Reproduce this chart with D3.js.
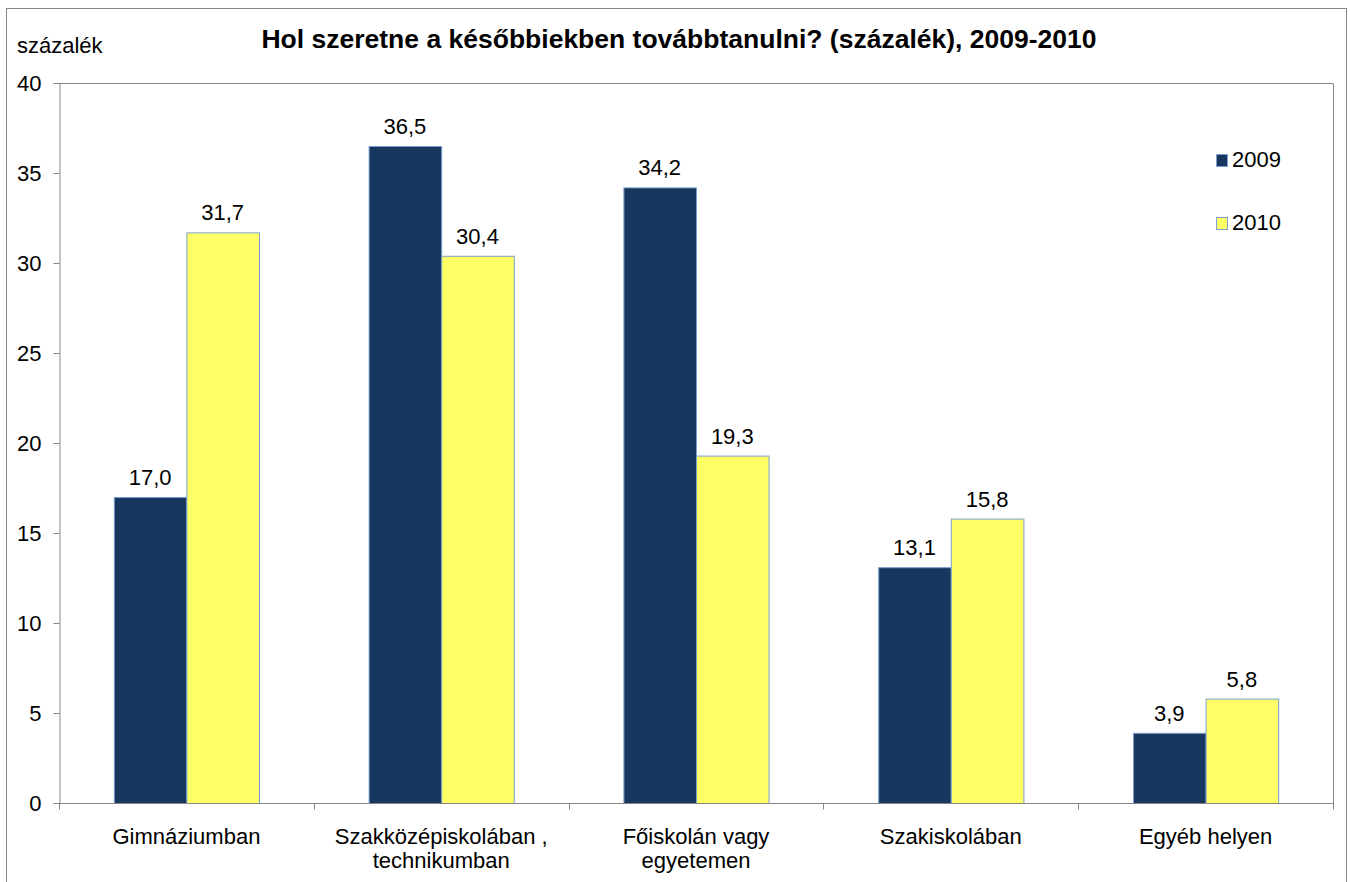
<!DOCTYPE html>
<html>
<head>
<meta charset="utf-8">
<script src="https://cdn.jsdelivr.net/npm/d3@7"></script>
<style>
  body { margin: 0; background: #fff; }
  svg text { font-family: "Liberation Sans", Arial, sans-serif; fill: #000; }
</style>
</head>
<body>
<svg id="chart" width="1350" height="882"></svg>
<script>
const categories = [
  ["Gimnáziumban"],
  ["Szakközépiskolában ,", "technikumban"],
  ["Főiskolán vagy", "egyetemen"],
  ["Szakiskolában"],
  ["Egyéb helyen"]
]
const series = ["2009", "2010"]
const values2009 = [17.0, 36.5, 34.2, 13.1, 3.9]
const values2010 = [31.7, 30.4, 19.3, 15.8, 5.8]
const yTicks = [0, 5, 10, 15, 20, 25, 30, 35, 40]

const colors = { "2009": "#17375e", "2010": "#ffff66" }
const barStroke = "#7a9fd0"
const axisColor = "#868686"
const FONT = "22px"

const svg = d3.select("#chart")
const margin = { left: 59, right: 1333, top: 83, bottom: 803 }

/* outer frame */
svg.append("rect")
  .attr("x", 6.5).attr("y", 8.5)
  .attr("width", 1340).attr("height", 900)
  .attr("fill", "none")
  .attr("stroke", axisColor)

const x = d3.scaleBand()
  .domain(d3.range(categories.length))
  .range([margin.left, margin.right])
  .paddingInner(0)
  .paddingOuter(0)

const xInner = d3.scaleBand()
  .domain(series)
  .range([0, x.bandwidth()])
  .paddingInner(0)
  .paddingOuter(0.755)

const y = d3.scaleLinear()
  .domain([0, 40])
  .range([margin.bottom, margin.top])

/* plot area border (top + right) */
svg.append("path")
  .attr("d", `M${margin.left},${margin.top + 0.5}H${margin.right + 0.5}V${margin.bottom}`)
  .attr("fill", "none")
  .attr("stroke", axisColor)

/* y axis */
const yAxis = svg.append("g")
  .attr("transform", `translate(${margin.left + 0.5},0)`)
  .call(d3.axisLeft(y).tickValues(yTicks).tickSize(6).tickPadding(12).tickFormat(d3.format("d")))
yAxis.select(".domain").attr("stroke", axisColor)
yAxis.selectAll(".tick line").attr("stroke", axisColor)
yAxis.selectAll(".tick text").style("font-size", FONT).attr("dy", "0.35em")

/* bars */
const data = categories.map((c, i) => ({ i, vals: [values2009[i], values2010[i]] }))

const groups = svg.append("g").selectAll("g")
  .data(data)
  .join("g")
  .attr("transform", d => `translate(${x(d.i)},0)`)

groups.selectAll("rect")
  .data(d => d.vals.map((v, k) => ({ key: series[k], v })))
  .join("rect")
  .attr("x", d => xInner(d.key) + 0.5)
  .attr("y", d => y(d.v) + 0.5)
  .attr("width", xInner.bandwidth())
  .attr("height", d => y(0) - y(d.v))
  .attr("fill", d => colors[d.key])
  .attr("stroke", barStroke)
  .attr("stroke-width", 1)

groups.selectAll("text.val")
  .data(d => d.vals.map((v, k) => ({ key: series[k], v })))
  .join("text")
  .attr("class", "val")
  .attr("x", d => xInner(d.key) + xInner.bandwidth() / 2)
  .attr("y", d => y(d.v) - 12)
  .attr("text-anchor", "middle")
  .style("font-size", FONT)
  .text(d => d3.format(".1f")(d.v).replace(".", ","))

/* x axis */
const xAxis = svg.append("g")
  .attr("transform", `translate(0,${margin.bottom + 0.5})`)
xAxis.append("line")
  .attr("x1", margin.left).attr("x2", margin.right + 1)
  .attr("stroke", axisColor)
xAxis.selectAll("line.tick")
  .data(d3.range(categories.length + 1))
  .join("line")
  .attr("class", "tick")
  .attr("x1", i => Math.round(margin.left + i * x.step()) + 0.5)
  .attr("x2", i => Math.round(margin.left + i * x.step()) + 0.5)
  .attr("y1", 0).attr("y2", 6)
  .attr("stroke", axisColor)

xAxis.selectAll("text")
  .data(data)
  .join("text")
  .attr("text-anchor", "middle")
  .style("font-size", FONT)
  .attr("transform", d => `translate(${x(d.i) + x.bandwidth() / 2},40)`)
  .each(function (d) {
    d3.select(this).selectAll("tspan")
      .data(categories[d.i])
      .join("tspan")
      .attr("x", 0)
      .attr("dy", (t, k) => k === 0 ? 0 : 24)
      .text(t => t)
  })

/* title + unit */
svg.append("text")
  .attr("x", 679).attr("y", 48)
  .attr("text-anchor", "middle")
  .style("font-size", "26.5px")
  .style("font-weight", "bold")
  .text("Hol szeretne a későbbiekben továbbtanulni? (százalék), 2009-2010")

svg.append("text")
  .attr("x", 17).attr("y", 53)
  .style("font-size", FONT)
  .text("százalék")

/* legend */
const legend = svg.append("g").attr("transform", "translate(1216,154)")
const li = legend.selectAll("g")
  .data(series)
  .join("g")
  .attr("transform", (d, k) => `translate(0,${k * 63})`)
li.append("rect")
  .attr("x", 0.5).attr("y", 0.5)
  .attr("width", 11).attr("height", 12)
  .attr("fill", d => colors[d])
  .attr("stroke", barStroke)
li.append("text")
  .attr("x", 16).attr("y", 13)
  .style("font-size", FONT)
  .text(d => d)
</script>
</body>
</html>
